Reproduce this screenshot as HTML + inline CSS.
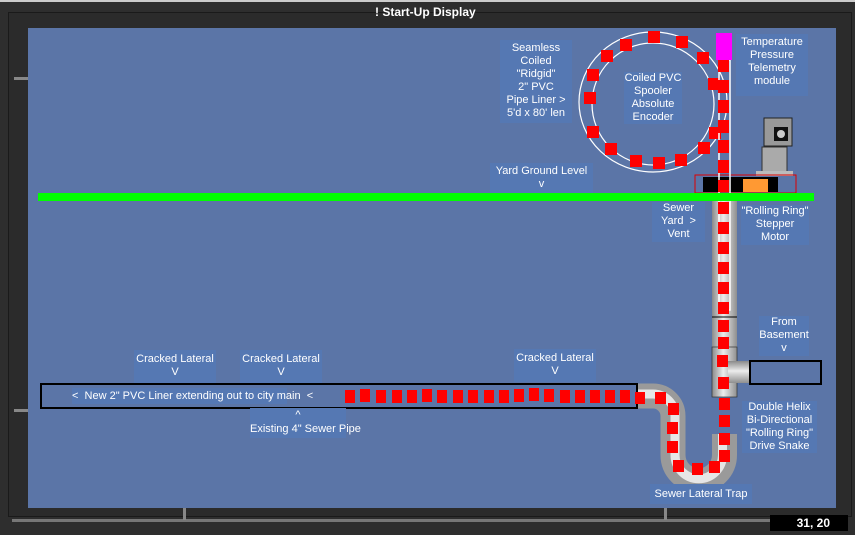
<!DOCTYPE html>
<html><head><style>
body{margin:0;width:855px;height:535px;background:#2e2e2e;overflow:hidden;font-family:"Liberation Sans",sans-serif;}
.l{position:absolute;background:#5578b3;color:#fff;font-size:11px;line-height:13px;text-align:center;white-space:nowrap;}
</style></head><body>
<div style="position:absolute;left:0;top:0;width:855px;height:2px;background:#ccc"></div>
<div style="position:absolute;left:8px;top:12px;width:842px;height:503px;border:1px solid #1a1a1a;background:#2b2b2b"></div>
<div style="position:absolute;left:375px;top:5px;color:#fff;font-size:12px;font-weight:bold">! Start-Up Display</div>
<div style="position:absolute;left:14px;top:77px;width:14px;height:3px;background:#888"></div>
<div style="position:absolute;left:14px;top:409px;width:14px;height:3px;background:#888"></div>
<div style="position:absolute;left:12px;top:519px;width:760px;height:3px;background:#777"></div>
<div style="position:absolute;left:183px;top:508px;width:3px;height:12px;background:#888"></div>
<div style="position:absolute;left:664px;top:508px;width:3px;height:12px;background:#888"></div>
<div style="position:absolute;left:770px;top:515px;width:78px;height:16px;background:#000;color:#fff;font-size:12px;font-weight:bold;text-align:right;line-height:16px;padding-right:0"><span style="padding-right:18px">31, 20</span></div>
<div style="position:absolute;left:28px;top:28px;width:808px;height:480px;background:#5b75a7"></div>
<svg style="position:absolute;left:0;top:0" width="855" height="535">
<defs>
<linearGradient id="gv" x1="0" x2="1" y1="0" y2="0"><stop offset="0" stop-color="#8a8a8a"/><stop offset=".45" stop-color="#ececec"/><stop offset="1" stop-color="#8f8f8f"/></linearGradient>
<linearGradient id="gh" x1="0" x2="0" y1="0" y2="1"><stop offset="0" stop-color="#8a8a8a"/><stop offset=".45" stop-color="#ececec"/><stop offset="1" stop-color="#8f8f8f"/></linearGradient>
</defs>
<ellipse cx="653" cy="102" rx="74" ry="70" fill="none" stroke="#fff" stroke-width="1.2"/>
<ellipse cx="653" cy="104" rx="61" ry="61" fill="none" stroke="#fff" stroke-width="1.2"/>
<g fill="#f00">
<rect x="648" y="31" width="12" height="12"/><rect x="620" y="39" width="12" height="12"/><rect x="676" y="36" width="12" height="12"/>
<rect x="601" y="50" width="12" height="12"/><rect x="697" y="52" width="12" height="12"/>
<rect x="587" y="69" width="12" height="12"/><rect x="708" y="78" width="12" height="12"/>
<rect x="584" y="92" width="12" height="12"/>
<rect x="587" y="126" width="12" height="12"/><rect x="709" y="127" width="12" height="12"/>
<rect x="605" y="143" width="12" height="12"/><rect x="698" y="142" width="12" height="12"/>
<rect x="630" y="155" width="12" height="12"/><rect x="653" y="157" width="12" height="12"/><rect x="675" y="154" width="12" height="12"/>
</g>
<rect x="764" y="118" width="28" height="28" fill="#999" stroke="#222"/>
<rect x="774" y="127" width="14" height="14" fill="#111"/><circle cx="781" cy="134" r="4" fill="#ccc"/>
<rect x="762" y="147" width="25" height="25" fill="#aaa" stroke="#333"/>
<rect x="756" y="171" width="37" height="5" fill="#bbb"/>
<rect x="695" y="175" width="101" height="18" fill="none" stroke="#d00"/>
<rect x="703" y="177" width="75" height="15" fill="#000"/>
<rect x="743" y="179" width="25" height="13" fill="#f93"/>
<rect x="712" y="200" width="25" height="197" fill="url(#gv)"/>
<line x1="712" y1="317" x2="737" y2="317" stroke="#000"/>
<rect x="719" y="60" width="11" height="250" fill="none" stroke="#fff" stroke-width="1.5"/>
<rect x="716" y="33" width="16" height="27" fill="#f0f"/>
<rect x="38" y="193" width="776" height="8" fill="#0f0"/>
<rect x="712" y="347" width="25" height="50" fill="url(#gv)" stroke="#333" stroke-width=".7"/>
<rect x="728" y="361" width="22" height="22" fill="url(#gh)"/>
<rect x="750" y="361" width="71" height="23" fill="none" stroke="#000" stroke-width="2"/>
<path d="M637 396 H653 A20 20 0 0 1 673 416 V455 A25.5 25.5 0 0 0 724.5 455 V434" fill="none" stroke="#9a9a9a" stroke-width="25"/>
<path d="M637 394 H653 A22 22 0 0 1 675 416 V455 A23.5 23.5 0 0 0 722.5 455 V434" fill="none" stroke="#e6e6e6" stroke-width="9"/>
<rect x="41" y="384" width="596" height="24" fill="none" stroke="#000" stroke-width="2"/>
<g fill="#f00">
<rect x="345" y="390" width="10" height="13"/><rect x="360" y="389" width="10" height="13"/><rect x="376" y="390" width="10" height="13"/><rect x="392" y="390" width="10" height="13"/><rect x="407" y="390" width="10" height="13"/><rect x="422" y="389" width="10" height="13"/><rect x="437" y="390" width="10" height="13"/><rect x="453" y="390" width="10" height="13"/><rect x="468" y="390" width="10" height="13"/><rect x="484" y="390" width="10" height="13"/><rect x="499" y="390" width="10" height="13"/><rect x="514" y="389" width="10" height="13"/><rect x="529" y="388" width="10" height="13"/><rect x="544" y="389" width="10" height="13"/><rect x="560" y="390" width="10" height="13"/><rect x="575" y="390" width="10" height="13"/><rect x="590" y="390" width="10" height="13"/><rect x="605" y="390" width="10" height="13"/><rect x="620" y="390" width="10" height="13"/>
<rect x="635" y="392" width="10" height="12"/><rect x="655" y="392" width="11" height="12"/>
<rect x="668" y="403" width="11" height="12"/><rect x="667" y="422" width="11" height="12"/><rect x="667" y="441" width="11" height="12"/>
<rect x="673" y="460" width="11" height="12"/><rect x="692" y="463" width="11" height="12"/><rect x="709" y="461" width="11" height="12"/><rect x="719" y="450" width="11" height="12"/>
</g>
<g fill="#f00">
<rect x="718" y="60" width="11" height="12"/><rect x="718" y="80" width="11" height="13"/><rect x="718" y="100" width="11" height="13"/>
<rect x="718" y="120" width="11" height="13"/><rect x="718" y="140" width="11" height="13"/><rect x="718" y="160" width="11" height="13"/>
<rect x="718" y="180" width="11" height="12"/><rect x="718" y="202" width="11" height="12"/><rect x="718" y="222" width="11" height="12"/>
<rect x="718" y="242" width="11" height="12"/><rect x="718" y="262" width="11" height="12"/><rect x="718" y="282" width="11" height="12"/>
<rect x="718" y="302" width="11" height="12"/><rect x="718" y="320" width="11" height="12"/><rect x="718" y="337" width="11" height="12"/>
<rect x="717" y="355" width="11" height="12"/><rect x="718" y="377" width="11" height="12"/>
<rect x="719" y="398" width="11" height="12"/><rect x="719" y="415" width="11" height="12"/><rect x="719" y="433" width="11" height="12"/>
</g>
</svg>
<div class="l" style="left:500px;top:40px;width:72px;height:81px;padding-top:2px">Seamless<br>Coiled<br>"Ridgid"<br>2" PVC<br>Pipe Liner &gt;<br>5'd x 80' len</div>
<div class="l" style="left:624px;top:72px;width:58px;height:52px">Coiled PVC<br>Spooler<br>Absolute<br>Encoder</div>
<div class="l" style="left:736px;top:34px;width:72px;height:60px;padding-top:2px">Temperature<br>Pressure<br>Telemetry<br>module</div>
<div class="l" style="left:490px;top:163px;width:103px;height:28px;padding-top:2px">Yard Ground Level<br>v</div>
<div class="l" style="left:652px;top:202px;width:53px;height:40px">Sewer<br>Yard &nbsp;&gt;<br>Vent</div>
<div class="l" style="left:741px;top:205px;width:68px;height:40px">"Rolling Ring"<br>Stepper<br>Motor</div>
<div class="l" style="left:759px;top:316px;width:50px;height:40px">From<br>Basement<br>v</div>
<div class="l" style="left:742px;top:401px;width:75px;height:52px">Double Helix<br>Bi-Directional<br>"Rolling Ring"<br>Drive Snake</div>
<div class="l" style="left:650px;top:484px;width:102px;height:20px;line-height:20px">Sewer Lateral Trap</div>
<div class="l" style="left:134px;top:350px;width:82px;height:30px;padding-top:3px">Cracked Lateral<br>V</div>
<div class="l" style="left:240px;top:350px;width:82px;height:30px;padding-top:3px">Cracked Lateral<br>V</div>
<div class="l" style="left:514px;top:349px;width:82px;height:30px;padding-top:3px">Cracked Lateral<br>V</div>
<div class="l" style="left:72px;top:388px;width:215px;height:16px;line-height:16px">&lt;&nbsp; New 2" PVC Liner extending out to city main &nbsp;&lt;</div>
<div class="l" style="left:250px;top:408px;width:96px;height:30px;line-height:14px">^<br>Existing 4" Sewer Pipe</div>
</body></html>
